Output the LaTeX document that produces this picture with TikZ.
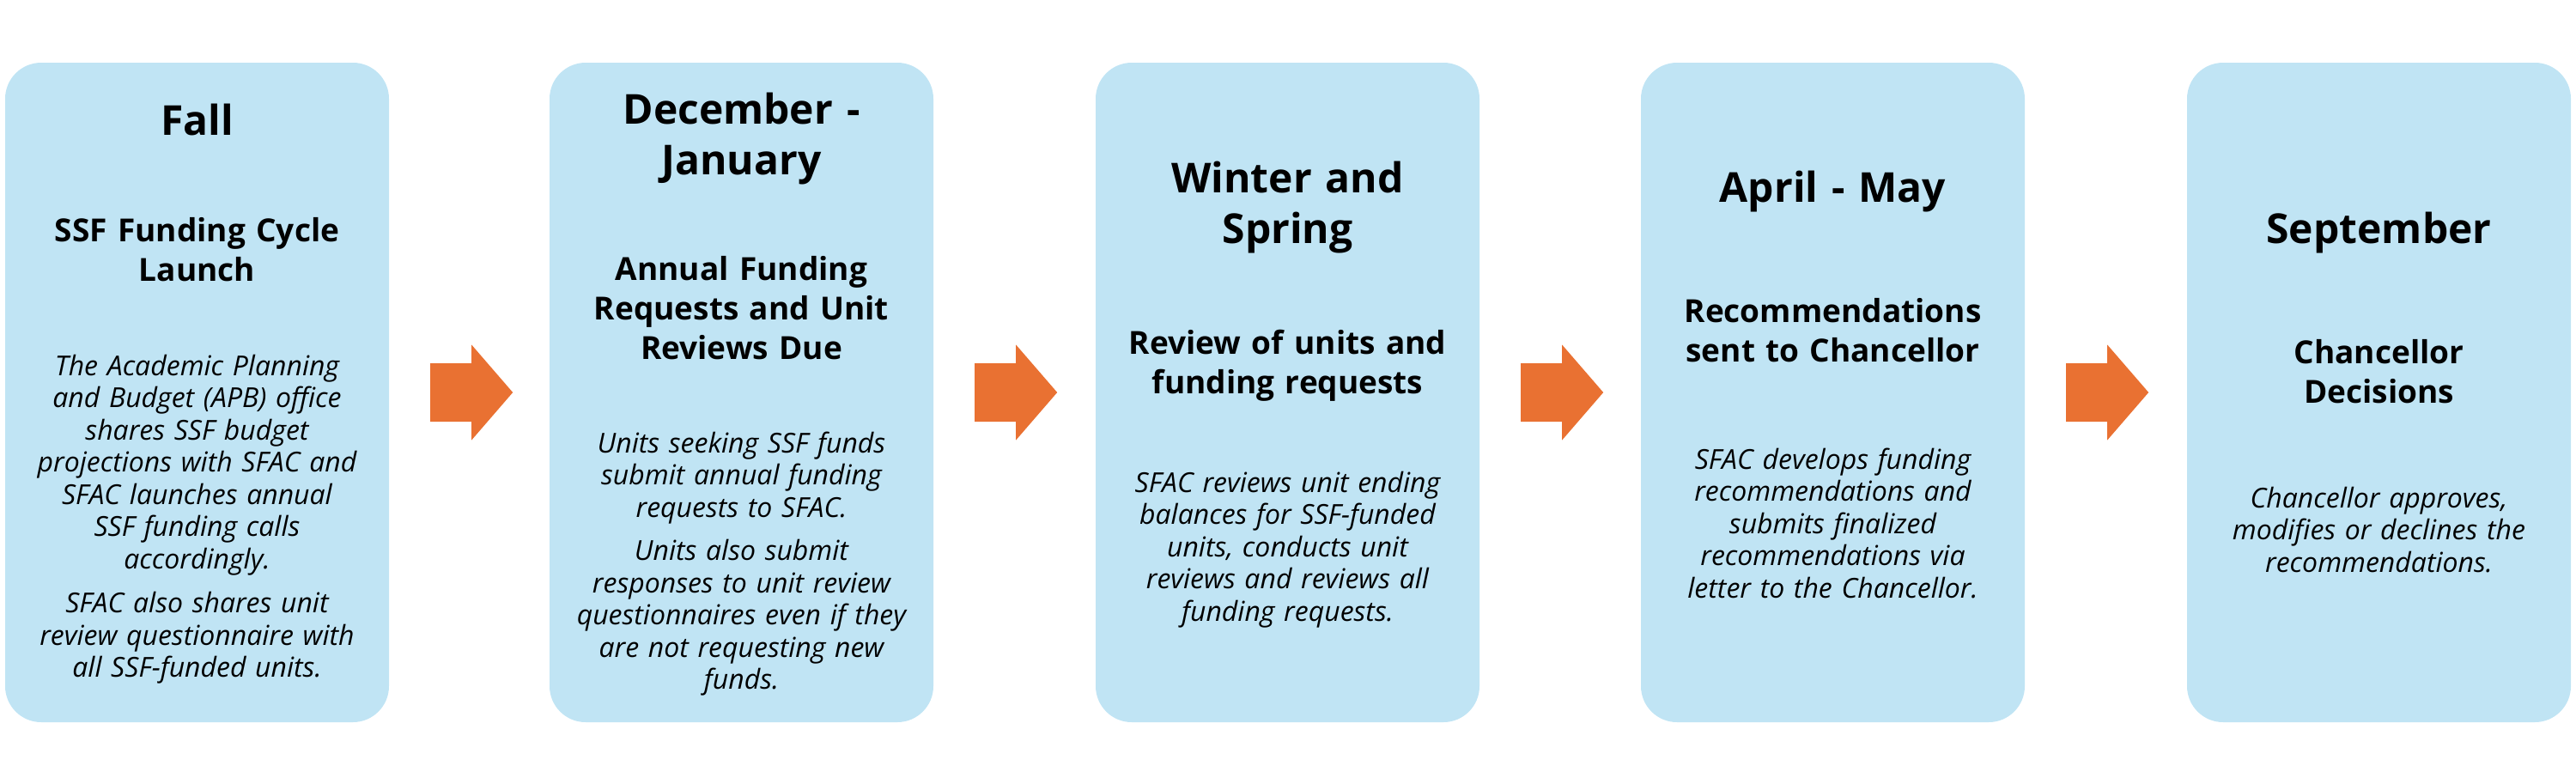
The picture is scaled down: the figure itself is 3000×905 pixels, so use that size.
\documentclass[tikz,border=0pt]{standalone}
\usepackage{fontspec}
\setmainfont{Open Sans}
\usetikzlibrary{calc}
\definecolor{boxblue}{HTML}{C0E4F4}
\definecolor{arrorange}{HTML}{E97132}
\begin{document}
\begin{tikzpicture}[x=1pt,y=-1pt,
  stage/.style={fill=boxblue, draw=none, rounded corners=42pt, minimum width=447pt, minimum height=768pt, inner sep=0pt},
  txt/.style={anchor=base, text width=600pt, align=center, inner sep=0pt, text=black},
  title/.style={txt, font=\fontsize{48}{59}\selectfont\bfseries},
  subtitle/.style={txt, font=\fontsize{37}{46}\selectfont\bfseries},
  desc/.style={txt, font=\fontsize{32}{37.5}\selectfont\itshape},
  blockarrow/.style={fill=arrorange, draw=none}
]
\useasboundingbox (0,0) rectangle (3000,905);

% boxes
\node[stage] (b1) at (229.5,457) {};
\node[stage] (b2) at (863.5,457) {};
\node[stage] (b3) at (1499.5,457) {};
\node[stage] (b4) at (2134.5,457) {};
\node[stage] (b5) at (2770.5,457) {};

% arrows
\foreach \a in {b1,b2,b3,b4}{
  \fill[blockarrow] ($(\a.east)+(48,-34)$) -- ($(\a.east)+(96,-34)$) -- ($(\a.east)+(96,-55.5)$)
    -- ($(\a.east)+(144,0)$) -- ($(\a.east)+(96,55.5)$) -- ($(\a.east)+(96,34)$)
    -- ($(\a.east)+(48,34)$) -- cycle;
}

% box 1
\node[title] (t1) at (229.5,157) {Fall};
\node[subtitle] (s1) at (229.5,281) {SSF Funding Cycle\\Launch};
\node[desc] (d1) at (229.5,437) {The Academic Planning\\and Budget (APB) office\\shares SSF budget\\projections with SFAC and\\SFAC launches annual\\SSF funding calls\\accordingly.\\[14pt]SFAC also shares unit\\review questionnaire with\\all SSF-funded units.};

% box 2
\node[title] (t2) at (863.5,144) {December -\\January};
\node[subtitle] (s2) at (863.5,326) {Annual Funding\\Requests and Unit\\Reviews Due};
\node[desc] (d2) at (863.5,527) {Units seeking SSF funds\\submit annual funding\\requests to SFAC.\\[13pt]Units also submit\\responses to unit review\\questionnaires even if they\\are not requesting new\\funds.};

% box 3
\node[title] (t3) at (1499.5,224) {Winter and\\Spring};
\node[subtitle] (s3) at (1499.5,412) {Review of units and\\funding requests};
\node[desc] (d3) at (1499.5,573) {SFAC reviews unit ending\\balances for SSF-funded\\units, conducts unit\\reviews and reviews all\\funding requests.};

% box 4
\node[title] (t4) at (2134.5,235) {April - May};
\node[subtitle] (s4) at (2134.5,375) {Recommendations\\sent to Chancellor};
\node[desc] (d4) at (2134.5,546) {SFAC develops funding\\recommendations and\\submits finalized\\recommendations via\\letter to the Chancellor.};

% box 5
\node[title] (t5) at (2770.5,283) {September};
\node[subtitle] (s5) at (2770.5,423) {Chancellor\\Decisions};
\node[desc] (d5) at (2770.5,591) {Chancellor approves,\\modifies or declines the\\recommendations.};
\end{tikzpicture}
\end{document}
